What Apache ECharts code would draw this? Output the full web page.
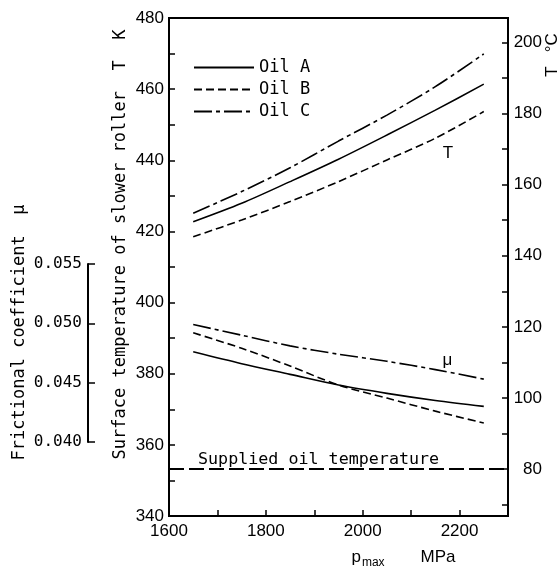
<!DOCTYPE html>
<html><head><meta charset="utf-8">
<script src="https://cdn.jsdelivr.net/npm/echarts@6/dist/echarts.min.js"></script>
<style>html,body{margin:0;padding:0;background:#fff}#c{width:560px;height:569px}</style>
</head><body><div id="c"></div>
<script>
// ---- data ----
const pressure = [1650, 1750, 1850, 1950, 2050, 2150, 2250];           // p_max, MPa
const tempA = [422.7, 427.9, 434.0, 440.3, 447.1, 454.1, 461.4];        // K
const tempB = [418.5, 423.2, 428.4, 434.0, 440.1, 446.2, 453.7];
const tempC = [425.1, 431.2, 437.9, 445.4, 452.7, 460.7, 469.9];
const muA = [0.0476, 0.0466, 0.0457, 0.0448, 0.0441, 0.0435, 0.0430];
const muB = [0.0492, 0.0479, 0.0464, 0.0448, 0.0437, 0.0426, 0.0416];
const muC = [0.0499, 0.0490, 0.0481, 0.0474, 0.0468, 0.0461, 0.0453];
const oilNames = ['Oil A', 'Oil B', 'Oil C'];
const celsiusTicks = [70, 80, 90, 100, 110, 120, 130, 140, 150, 160, 170, 180, 190, 200];
const celsiusLabels = [80, 100, 120, 140, 160, 180, 200];
const suppliedOilC = 80;
const KELVIN = 273.15;

const chart = echarts.init(document.getElementById('c'));
const mono = "'DejaVu Sans Mono', monospace";
const sans = "'Liberation Sans', Arial, sans-serif";
const pair = arr => pressure.map((p, i) => [p, arr[i]]);
const dashes = ['solid', [8, 4], [18, 4, 4, 4]];
const lineStyle = i => ({ color: '#000', width: 1.6, type: dashes[i] });

const tempSeries = [tempA, tempB, tempC].map((d, i) => ({
  name: oilNames[i], type: 'line', xAxisIndex: 0, yAxisIndex: 0,
  data: pair(d), smooth: 0.3, symbol: 'none', color: '#000', lineStyle: lineStyle(i), z: 3
}));
const muSeries = [muA, muB, muC].map((d, i) => ({
  name: oilNames[i], type: 'line', xAxisIndex: 1, yAxisIndex: 2,
  data: pair(d), smooth: 0.3, symbol: 'none', color: '#000', lineStyle: lineStyle(i), z: 3
}));
tempSeries[0].markPoint = {
  symbol: 'circle', symbolSize: 0, silent: true,
  label: { show: true, position: 'inside', formatter: 'T', color: '#000', fontFamily: sans, fontSize: 17 },
  data: [{ coord: [2176, 442] }]
};
tempSeries[0].markLine = {
  symbol: 'none', silent: true,
  lineStyle: { color: '#000', width: 2, type: [15, 5] },
  label: { show: true, position: 'insideStartTop', distance: [29, 1], formatter: 'Supplied oil temperature',
           color: '#000', fontFamily: mono, fontSize: 16.7 },
  data: [{ yAxis: suppliedOilC + KELVIN }]
};
muSeries[0].markPoint = {
  symbol: 'circle', symbolSize: 0, silent: true,
  label: { show: true, position: 'inside', formatter: 'μ', color: '#000', fontFamily: sans, fontSize: 17 },
  data: [{ coord: [2175, 0.0469] }]
};

const axisLine = { show: true, lineStyle: { color: '#000', width: 2 } };
const tick = { show: true, inside: true, length: 6, lineStyle: { color: '#000', width: 1.5 } };

const option = {
  animation: false,
  backgroundColor: '#fff',
  grid: [
    { left: 169, right: 52, top: 18, bottom: 53, show: true, borderColor: '#000', borderWidth: 2,
      outerBoundsMode: 'none', containLabel: false },
    { left: 169, right: 52, top: 264, bottom: 127, outerBoundsMode: 'none', containLabel: false }
  ],
  legend: {
    data: oilNames, orient: 'vertical', left: 188, top: 54,
    itemWidth: 60, itemHeight: 14, itemGap: 5,
    itemStyle: { opacity: 0 },
    textStyle: { color: '#000', fontFamily: mono, fontSize: 17, padding: [0, 0, 0, 0] }
  },
  xAxis: [
    { gridIndex: 0, type: 'value', min: 1600, max: 2300, interval: 100,
      axisLine, axisTick: tick, splitLine: { show: false },
      axisLabel: { formatter: v => (v % 200 === 0 && v < 2300) ? String(v) : '',
                   color: '#000', fontFamily: sans, fontSize: 17, margin: 7 },
      name: '{p|p}{sub|max}{gap|}{u|MPa}', nameLocation: 'middle', nameGap: 30, nameMoveOverlap: false,
      nameTextStyle: { color: '#000', fontFamily: sans, fontSize: 17, padding: [0, 0, 0, 130],
        rich: {
          p: { fontFamily: sans, fontSize: 17, color: '#000' },
          sub: { fontFamily: sans, fontSize: 12, color: '#000', padding: [11, 0, 0, 1] },
          gap: { width: 36 },
          u: { fontFamily: sans, fontSize: 17, color: '#000' }
        } } },
    { gridIndex: 1, type: 'value', min: 1600, max: 2300, show: false }
  ],
  yAxis: [
    { gridIndex: 0, type: 'value', min: 340, max: 480, interval: 10, position: 'left',
      axisLine, axisTick: tick, splitLine: { show: false },
      axisLabel: { formatter: v => v % 20 === 0 ? String(v) : '', color: '#000', fontFamily: sans, fontSize: 17, margin: 5 },
      name: 'Surface temperature of slower roller  T  K', nameLocation: 'middle', nameRotate: 90, nameGap: 40,
      nameMoveOverlap: false,
      nameTextStyle: { color: '#000', fontFamily: mono, fontSize: 17, padding: [0, 0, 0, 45] } },
    { gridIndex: 0, type: 'value', min: 340 - KELVIN, max: 480 - KELVIN, position: 'right',
      axisLine, splitLine: { show: false },
      axisTick: Object.assign({}, tick, { customValues: celsiusTicks }),
      axisLabel: { customValues: celsiusLabels, color: '#000', fontFamily: sans, fontSize: 17, margin: 34, align: 'right' },
      name: 'T   °C', nameLocation: 'middle', nameRotate: 90, nameGap: 36, nameMoveOverlap: false,
      nameTextStyle: { color: '#000', fontFamily: sans, fontSize: 17, padding: [0, 0, 0, 424] } },
    { gridIndex: 1, type: 'value', min: 0.040, max: 0.055, interval: 0.005, position: 'left', offset: 81,
      axisLine, axisTick: Object.assign({}, tick, { length: 7 }), splitLine: { show: false },
      axisLabel: { formatter: v => v.toFixed(3), color: '#000', fontFamily: mono, fontSize: 16, margin: 6 },
      name: 'Frictional coefficient  μ', nameLocation: 'middle', nameRotate: 90, nameGap: 60,
      nameMoveOverlap: false,
      nameTextStyle: { color: '#000', fontFamily: mono, fontSize: 17, padding: [0, 0, 0, 41] } }
  ],
  series: tempSeries.concat(muSeries)
};
chart.setOption(option);
</script></body></html>
